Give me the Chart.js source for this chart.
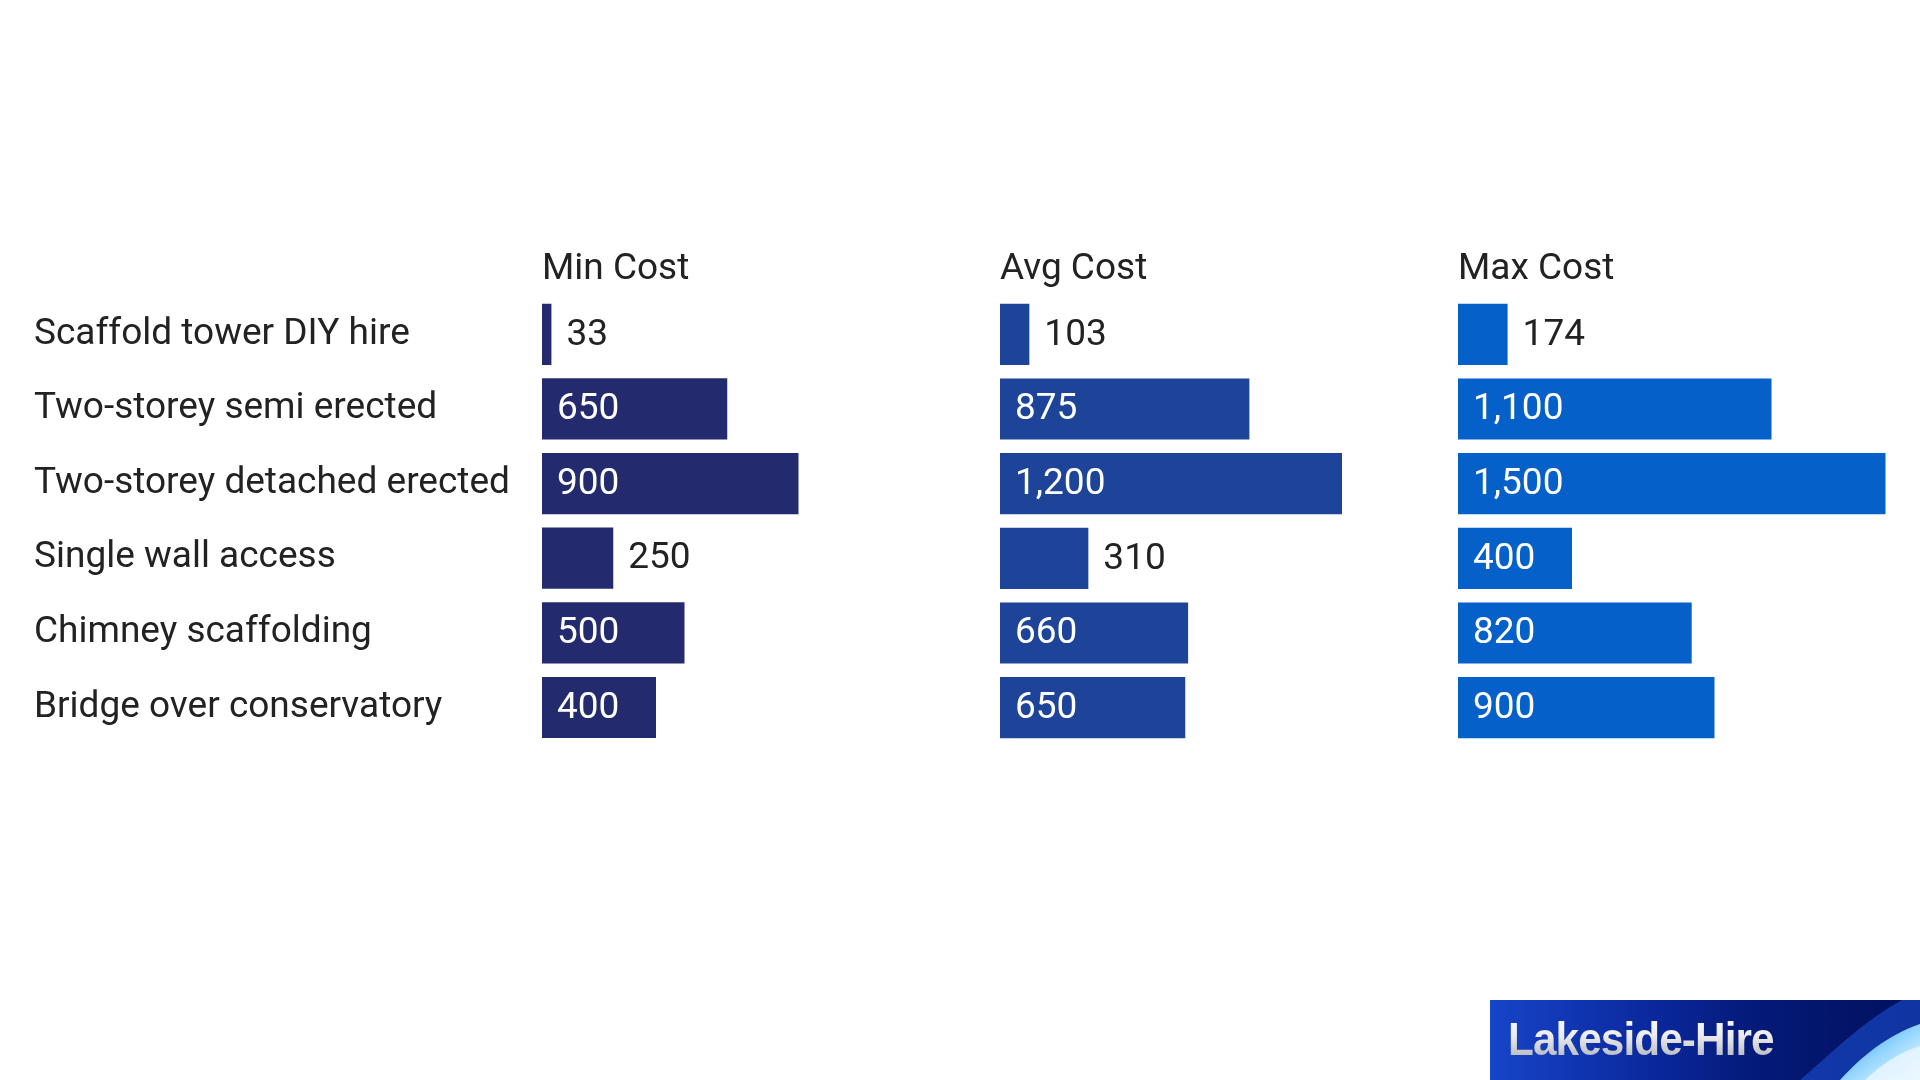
<!DOCTYPE html>
<html>
<head>
<meta charset="utf-8">
<script src="https://cdn.jsdelivr.net/npm/chart.js@4"></script>
<style>
  html, body { margin: 0; padding: 0; background: #fff; }
  body { width: 1920px; height: 1080px; position: relative; overflow: hidden; font-family: Roboto, sans-serif; }
  canvas { position: absolute; }
  #logo {
    position: absolute; left: 1490px; top: 1000px; width: 430px; height: 80px; overflow: hidden;
    background: linear-gradient(90deg, #1744c8 0%, #0b2aa0 35%, #041a78 62%, #020f5c 100%);
  }
  #logo span {
    position: absolute; left: 18px; top: 11px;
    font-family: "Liberation Sans Narrow", "Liberation Sans", sans-serif; font-weight: bold; font-size: 47px;
    letter-spacing: -1px;
    transform: scaleX(0.9); transform-origin: left center;
    background: linear-gradient(180deg, #ffffff 0%, #ececec 45%, #a4a6b0 100%);
    -webkit-background-clip: text; background-clip: text; color: transparent;
  }
  #logo svg { position: absolute; left: 0; top: 0; }
</style>
</head>
<body>
<canvas id="minChart" width="998" height="540" style="left:0;top:230px"></canvas>
<canvas id="avgChart" width="456" height="540" style="left:1000px;top:230px"></canvas>
<canvas id="maxChart" width="456" height="540" style="left:1458px;top:230px"></canvas>
<div id="logo">
  <svg width="430" height="80" viewBox="0 0 430 80">
    <defs>
      <linearGradient id="sw" x1="0" y1="0" x2="1" y2="1">
        <stop offset="0" stop-color="#3a7cf0"/>
        <stop offset="0.5" stop-color="#8fd4ff"/>
        <stop offset="1" stop-color="#ffffff"/>
      </linearGradient>
    </defs>
    <path d="M310 80 C 345 50, 375 20, 412 0 L 430 0 L 430 80 Z" fill="#1b4fd0" opacity="0.6"/>
    <path d="M350 80 C 372 56, 396 36, 430 24 L 430 80 Z" fill="url(#sw)"/>
    <path d="M375 80 C 392 64, 410 52, 430 46 L 430 80 Z" fill="#e8f6ff" opacity="0.85"/>
  </svg>
  <span>Lakeside-Hire</span>
</div>
<script>
// categories and values
const jobs = ['Scaffold tower DIY hire', 'Two-storey semi erected', 'Two-storey detached erected',
    'Single wall access', 'Chimney scaffolding', 'Bridge over conservatory'];
const minCost = [33, 650, 900, 250, 500, 400];
const avgCost = [103, 875, 1200, 310, 660, 650];
const maxCost = [174, 1100, 1500, 400, 820, 900];
const panelTitles = ['Min Cost', 'Avg Cost', 'Max Cost'];
const panelColors = ['#232b6e', '#1d4498', '#0560c9'];

const scaleMax = 1600;
const fontFamily = 'Roboto, sans-serif';
const textSize = 37;

// draws the panel title and the value labels
const labelPlugin = {
    id: 'labelPlugin',
    afterDatasetsDraw(chart, args, opts) {
        const ctx = chart.ctx;
        const area = chart.chartArea;
        ctx.save();
        ctx.font = textSize + 'px ' + fontFamily;
        ctx.fillStyle = '#222';
        ctx.textAlign = 'left';
        ctx.textBaseline = 'middle';
        ctx.fillText(opts.title, area.left, 40);

        const meta = chart.getDatasetMeta(0);
        const values = chart.data.datasets[0].data;
        meta.data.forEach((bar, i) => {
            const txt = values[i].toLocaleString('en-US');
            const tw = ctx.measureText(txt).width;
            const bw = bar.x - bar.base;
            if (bw >= tw + 40) {
                ctx.fillStyle = '#fff';
                ctx.fillText(txt, bar.base + 15, bar.y + 1);
            } else {
                ctx.fillStyle = '#222';
                ctx.fillText(txt, bar.x + 15, bar.y + 1);
            }
        });
        ctx.restore();
    }
};

function makePanel(id, values, idx, showLabels) {
    const ctx = document.getElementById(id).getContext('2d');
    return new Chart(ctx, {
        type: 'bar',
        data: {
            labels: jobs,
            datasets: [{
                data: values,
                backgroundColor: panelColors[idx],
                borderWidth: 0,
                barPercentage: 0.82,
                categoryPercentage: 1
            }]
        },
        options: {
            indexAxis: 'y',
            responsive: false,
            animation: false,
            layout: { padding: { top: 67, bottom: 25, left: showLabels ? 34 : 0, right: 0 } },
            plugins: {
                legend: { display: false },
                tooltip: { enabled: false },
                labelPlugin: { title: panelTitles[idx] }
            },
            scales: {
                x: {
                    display: false,
                    min: 0,
                    max: scaleMax
                },
                y: {
                    display: showLabels,
                    grid: { display: false, drawTicks: false },
                    border: { display: false },
                    ticks: {
                        crossAlign: 'far',
                        color: '#222',
                        font: { family: fontFamily, size: textSize }
                    },
                    afterFit(scale) {
                        if (showLabels) scale.width = 508;
                    }
                }
            }
        },
        plugins: [labelPlugin]
    });
}

makePanel('minChart', minCost, 0, true);
makePanel('avgChart', avgCost, 1, false);
makePanel('maxChart', maxCost, 2, false);
</script>
</body>
</html>
